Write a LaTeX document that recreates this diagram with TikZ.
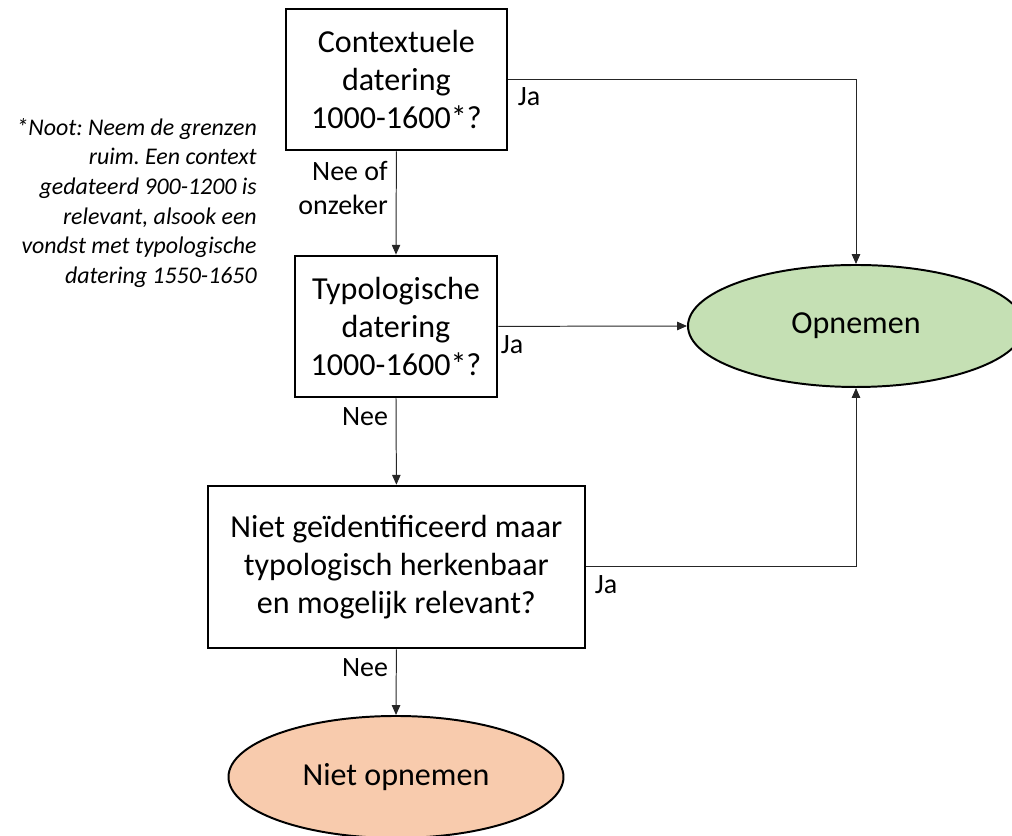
\documentclass[tikz,border=0pt]{standalone}
\usepackage{fontspec}
\setmainfont{Carlito}
\usetikzlibrary{shapes.geometric,arrows.meta}
\frenchspacing
\definecolor{okgreen}{HTML}{C5E0B4}
\definecolor{noorange}{HTML}{F8CBAD}
\tikzset{
  box/.style={draw,line width=1.8pt,inner sep=0pt,align=center,font=\fontsize{22.8}{27.2}\selectfont},
  oval/.style={ellipse,draw,line width=1.4pt,minimum width=8.4cm,minimum height=3.05cm,inner sep=0pt,font=\fontsize{22.8}{27.2}\selectfont},
  lbl/.style={inner sep=0pt,font=\fontsize{19.9}{24.2}\selectfont},
  link/.style={-{Triangle[length=7pt,width=6pt]},line width=0.7pt,draw=black!85}
}
\begin{document}
\begin{tikzpicture}[x=1cm,y=1cm]
\useasboundingbox (0,0) rectangle (25.3,20.9);

% vragen
\node[box,minimum width=5.525cm,minimum height=3.525cm] (ctx) at (9.91,18.91) {Contextuele\\datering\\1000-1600*?};
\node[box,minimum width=5.05cm,minimum height=3.525cm] (typ) at (9.9,12.74) {Typologische\\datering\\1000-1600*?};
\node[box,minimum width=9.425cm,minimum height=4.05cm] (herk) at (9.91,6.725) {Niet geïdentificeerd maar\\typologisch herkenbaar\\en mogelijk relevant?};

% uitkomsten
\node[oval,fill=okgreen] (opn) at (21.4,12.75) {Opnemen};
\node[oval,fill=noorange,minimum width=8.375cm] (niet) at (9.9,1.475) {Niet opnemen};

% noot
\node[anchor=north east,inner sep=0pt,align=right,font=\fontsize{17}{21.1}\selectfont\itshape] (noot) at (6.425,17.95)
  {*Noot: Neem de grenzen\\ruim. Een context\\gedateerd 900-1200 is\\relevant, alsook een\\vondst met typologische\\datering 1550-1650};

% pijlen
\draw[link] (ctx.east) -| (opn.north);
\draw[link] (ctx.south) -- (typ.north);
\draw[link] (typ.east) -- (opn.west);
\draw[link] (typ.south) -- (herk.north);
\draw[link] (herk.east) -| (opn.south);
\draw[link] (herk.south) -- (niet.north);

% labels
\node[lbl] (ja1) at (13.225,18.475) {Ja};
\node[lbl,anchor=east,align=right] (nee1) at (9.7,16.2) {Nee of\\onzeker};
\node[lbl] (ja2) at (12.8,12.275) {Ja};
\node[lbl] (nee2) at (9.125,10.475) {Nee};
\node[lbl] (ja3) at (15.15,6.275) {Ja};
\node[lbl] (nee3) at (9.125,4.2) {Nee};
\end{tikzpicture}
\end{document}
